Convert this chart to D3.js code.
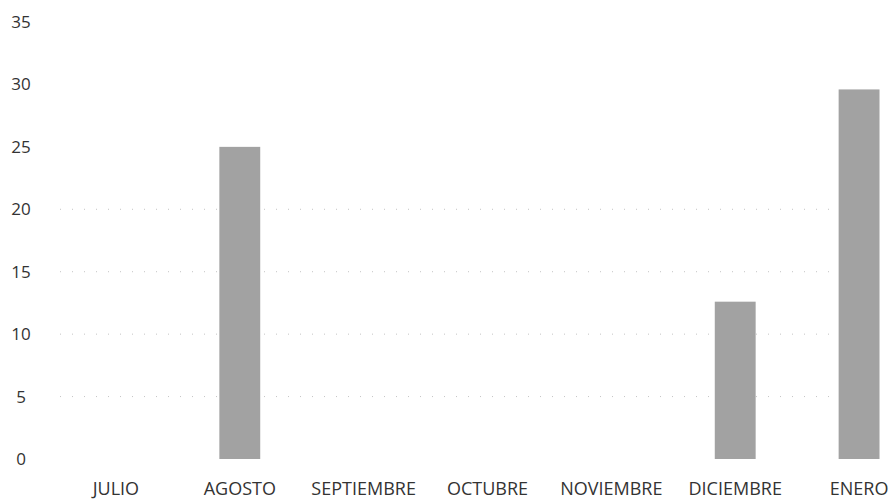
<!DOCTYPE html>
<html>
<head>
<meta charset="utf-8">
<script src="https://cdn.jsdelivr.net/npm/d3@7"></script>
<style>
  body { margin: 0; background: #fff; }
  svg text { font-family: "Open Sans", sans-serif; fill: #333; }
</style>
</head>
<body>
<svg id="svg"></svg>
<script>
// months on the x axis
const meses = ['JULIO', 'AGOSTO', 'SEPTIEMBRE', 'OCTUBRE', 'NOVIEMBRE', 'DICIEMBRE', 'ENERO']
// bar values (empty months are 0)
const valores = [0, 25, 0, 0, 0, 12.6, 29.6]
const yTicks = [0, 5, 10, 15, 20, 25, 30, 35]

var width = 890
var height = 504

var svg = d3.select('#svg')
    .attr('width', width)
    .attr('height', height)

var x = d3.scaleBand()
    .domain(meses)
    .range([54, 921])
    .paddingInner(0.67)
    .paddingOuter(0.335)

var y = d3.scaleLinear()
    .domain([0, 35])
    .range([459, 22])

// faint dotted gridlines, like the scan
svg.append('g')
  .selectAll('line')
  .data(yTicks.slice(1, 5))
  .join('line')
    .attr('x1', 60)
    .attr('x2', 885)
    .attr('y1', d => y(d))
    .attr('y2', d => y(d))
    .attr('stroke', '#c4c4c4')
    .attr('stroke-width', 1)
    .attr('stroke-dasharray', '1,11')

// y labels
var yAxis = g => g
    .attr('transform', 'translate(38,0)')
    .call(d3.axisLeft(y).tickValues(yTicks).tickSize(0).tickPadding(0))
    .call(g => g.select('.domain').remove())
    .call(g => g.selectAll('text').attr('font-size', 17).attr('text-anchor', 'middle').attr('dx', -17))

svg.append('g').call(yAxis)

// bars
svg.append('g')
  .selectAll('rect')
  .data(meses.map((m, i) => ({mes: m, valor: valores[i]})).filter(d => d.valor > 0))
  .join('rect')
    .attr('x', d => x(d.mes))
    .attr('y', d => y(d.valor))
    .attr('width', x.bandwidth())
    .attr('height', d => y(0) - y(d.valor))
    .attr('fill', '#a2a2a2')

// x labels
var xAxis = g => g
    .attr('transform', 'translate(0,' + y(0) + ')')
    .call(d3.axisBottom(x).tickSize(0).tickPadding(23))
    .call(g => g.select('.domain').remove())
    .call(g => g.selectAll('text').attr('font-size', 18))

svg.append('g').call(xAxis)
</script>
</body>
</html>
